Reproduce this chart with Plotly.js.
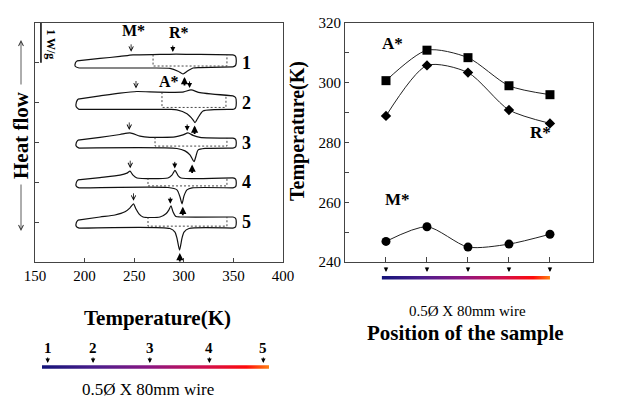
<!DOCTYPE html>
<html><head><meta charset="utf-8">
<script src="https://cdn.plot.ly/plotly-3.0.1.min.js"></script>
<style>html,body{margin:0;padding:0;background:#fff}#chart{width:638px;height:410px}</style>
</head><body><div id="chart"></div>
<script>
// ===== Right panel: transformation temperatures vs sample position =====
const samplePositions = [1, 2, 3, 4, 5];
const aStarTemps = [300.7, 310.9, 308.4, 299.0, 296.0];
const rStarTemps = [288.9, 305.8, 303.4, 290.9, 286.4];
const mStarTemps = [246.9, 251.8, 245.0, 246.0, 249.3];
const rightTempTicks = [240, 250, 260, 270, 280, 290, 300, 310, 320];
const rightTempTickText = ['240', '', '260', '', '280', '', '300', '', '320'];

// ===== Left panel: DSC heat-flow curves (K, W/g with offsets) =====
const leftTempTicks = [150, 200, 250, 300, 350, 400];
const curveLabels = ['1', '2', '3', '4', '5'];
const curveBaselines = [5, 4, 3, 2, 1];

const c1UpT = [192.3, 215.5, 235.7, 248.8, 276.0, 292.0, 316.3, 349.6];
const c1UpQ = [5.05, 5.11, 5.16, 5.20, 5.21, 5.22, 5.21, 5.20];
const c1LoT = [194.4, 265.9, 286.1, 294.2, 299.2, 304.2, 309.3, 316.3, 349.6];
const c1LoQ = [4.87, 4.87, 4.86, 4.79, 4.72, 4.80, 4.87, 4.88, 4.90];

const c2UpT = [193.3, 215.5, 235.7, 252.8, 265.9, 291.1, 300.0, 307.3, 316.3, 349.6];
const c2UpQ = [4.09, 4.17, 4.24, 4.28, 4.27, 4.26, 4.27, 4.32, 4.25, 4.17];
const c2LoT = [194.4, 286.1, 293.1, 303.2, 309.3, 311.3, 314.3, 319.4, 349.6];
const c2LoQ = [3.83, 3.83, 3.82, 3.72, 3.57, 3.50, 3.62, 3.79, 3.83];

const c3UpT = [193.3, 215.5, 235.7, 245.8, 255.8, 265.9, 291.1, 299.2, 304.2, 309.3, 316.3, 349.6];
const c3UpQ = [3.06, 3.13, 3.20, 3.24, 3.16, 3.13, 3.14, 3.19, 3.24, 3.18, 3.13, 3.11];
const c3LoT = [194.4, 293.1, 301.2, 306.2, 310.3, 312.3, 314.3, 321.4, 349.6];
const c3LoQ = [2.86, 2.85, 2.79, 2.69, 2.52, 2.66, 2.81, 2.85, 2.86];

const c4UpT = [193.3, 215.5, 235.7, 242.7, 245.8, 248.8, 252.8, 284.0, 288.0, 291.1, 294.2, 297.2, 349.6];
const c4UpQ = [2.06, 2.12, 2.18, 2.23, 2.28, 2.18, 2.11, 2.11, 2.18, 2.30, 2.17, 2.11, 2.11];
const c4LoT = [194.4, 284.1, 293.1, 296.2, 298.2, 300.2, 303.2, 308.3, 349.6];
const c4LoQ = [1.86, 1.87, 1.81, 1.63, 1.46, 1.66, 1.81, 1.86, 1.86];

const c5UpT = [193.3, 215.5, 230.6, 240.7, 245.8, 249.3, 251.8, 254.8, 258.9, 276.0, 282.0, 285.0, 287.1, 289.1, 292.1, 296.2, 349.6];
const c5UpQ = [1.05, 1.13, 1.18, 1.26, 1.36, 1.46, 1.33, 1.21, 1.13, 1.13, 1.21, 1.31, 1.41, 1.26, 1.14, 1.13, 1.13];
const c5LoT = [194.4, 286.1, 291.1, 293.1, 295.7, 298.2, 300.2, 305.2, 349.6];
const c5LoQ = [0.85, 0.84, 0.75, 0.60, 0.30, 0.60, 0.75, 0.84, 0.85];

const dashStartTemps = [269.0, 278.0, 271.0, 263.9, 263.9];
const dashEndTemps = [343.5, 342.5, 343.5, 343.5, 343.5];

// ===== Wire schematic =====
const wireLengthMM = [0, 80];
const wirePositionsMM = [2, 18, 38, 59, 78];
const wireBarPositions = [0.9, 5];
const wireColorscale = [[0, '#14147a'], [0.25, '#4e1e8c'], [0.47, '#8a1682'], [0.72, '#d0104e'], [0.9, '#ff0a0a'], [1, '#ff8010']];

const FONT = '"Liberation Serif", serif';
const INK = '#111';

const curves = [
  {upT: c1UpT, upQ: c1UpQ, loT: c1LoT, loQ: c1LoQ},
  {upT: c2UpT, upQ: c2UpQ, loT: c2LoT, loQ: c2LoQ},
  {upT: c3UpT, upQ: c3UpQ, loT: c3LoT, loQ: c3LoQ},
  {upT: c4UpT, upQ: c4UpQ, loT: c4LoT, loQ: c4LoQ},
  {upT: c5UpT, upQ: c5UpQ, loT: c5LoT, loQ: c5LoQ}
];

function interp(xs, ys, x) {
  for (let i = 0; i < xs.length - 1; i++) {
    if (x >= xs[i] && x <= xs[i + 1]) {
      const f = (x - xs[i]) / (xs[i + 1] - xs[i]);
      return ys[i] + f * (ys[i + 1] - ys[i]);
    }
  }
  return x < xs[0] ? ys[0] : ys[ys.length - 1];
}
function localExt(xs, ys, x, w, fn) {
  const vals = [interp(xs, ys, x)];
  xs.forEach((v, i) => { if (Math.abs(v - x) <= w) vals.push(ys[i]); });
  return fn(...vals);
}

const traces = [];
const annotations = [];
function txt(o) { return Object.assign({showarrow: false, xanchor: 'center', yanchor: 'middle'}, o); }

curves.forEach((c, i) => {
  const lineStyle = {color: INK, width: 1.2, shape: 'spline', smoothing: 0.6};
  traces.push({x: c.upT, y: c.upQ, xaxis: 'x', yaxis: 'y', mode: 'lines', line: lineStyle, hoverinfo: 'skip'});
  traces.push({x: c.loT, y: c.loQ, xaxis: 'x', yaxis: 'y', mode: 'lines', line: lineStyle, hoverinfo: 'skip'});
  // end caps
  const u0 = c.upQ[0], l0 = c.loQ[0], t0 = c.upT[0], tl0 = c.loT[0];
  const h0 = u0 - l0;
  traces.push({x: [t0, t0 - 1.6, t0 - 1.8, tl0], y: [u0, u0 - 0.3 * h0, l0 + 0.25 * h0, l0],
    xaxis: 'x', yaxis: 'y', mode: 'lines', line: {color: INK, width: 1.2, shape: 'spline'}, hoverinfo: 'skip'});
  const un = c.upQ[c.upQ.length - 1], ln = c.loQ[c.loQ.length - 1], tn = c.upT[c.upT.length - 1];
  const hn = un - ln;
  traces.push({x: [tn, tn + 2.6, tn + 3.3, tn + 2.6, tn], y: [un, un - 0.12 * hn, (un + ln) / 2, ln + 0.12 * hn, ln],
    xaxis: 'x', yaxis: 'y', mode: 'lines', line: {color: INK, width: 1.2, shape: 'spline'}, hoverinfo: 'skip'});
  // dashed inner path
  const ds = dashStartTemps[i], de = dashEndTemps[i];
  const base = c.loQ[0] + 0.05;
  traces.push({x: [ds, ds, de, de], y: [interp(c.upT, c.upQ, ds), base, base, interp(c.upT, c.upQ, de)],
    xaxis: 'x', yaxis: 'y', mode: 'lines', line: {color: '#333', width: 0.9, dash: '2px,2px'}, hoverinfo: 'skip'});

  // arrows
  const arrowBase = {xref: 'x', yref: 'y', text: '', showarrow: true, axref: 'pixel', ayref: 'pixel', ax: 0, font: {size: 1}, arrowcolor: '#000'};
  const mY = localExt(c.upT, c.upQ, mStarTemps[i], 4, Math.max);
  annotations.push(Object.assign({}, arrowBase, {x: mStarTemps[i], y: mY, ay: -9, yshift: 3, arrowhead: 5, arrowsize: 1.1, arrowwidth: 0.8}));
  const rY = localExt(c.upT, c.upQ, rStarTemps[i], 4, Math.max);
  annotations.push(Object.assign({}, arrowBase, {x: rStarTemps[i], y: rY, ay: -8, yshift: 2, arrowhead: 2, arrowsize: 1, arrowwidth: 1}));
  const aY = localExt(c.loT, c.loQ, aStarTemps[i], 6, Math.min);
  annotations.push(Object.assign({}, arrowBase, {x: aStarTemps[i], y: aY, ay: 10, yshift: -3, arrowhead: 2, arrowsize: 0.8, arrowwidth: 1.8}));
  // curve number
  annotations.push(txt({xref: 'x', yref: 'y', x: 363.7, y: curveBaselines[i], text: '<b>' + curveLabels[i] + '</b>',
    font: {family: FONT, size: 18, color: '#000'}}));
});

// scale bar 1 W/g
traces.push({x: [156, 156], y: [5, 6], xaxis: 'x', yaxis: 'y', mode: 'lines', line: {color: '#000', width: 1.5}, hoverinfo: 'skip'});
annotations.push(txt({xref: 'x', yref: 'y', x: 166, y: 5.47, text: '<b>1 W/g</b>', textangle: 90, font: {family: FONT, size: 12, color: '#000'}}));
// left peak labels
annotations.push(txt({xref: 'x', yref: 'y', x: 248.8, y: 5.80, text: '<b>M*</b>', font: {family: FONT, size: 16, color: '#000'}}));
annotations.push(txt({xref: 'x', yref: 'y', x: 295.2, y: 5.75, text: '<b>R*</b>', font: {family: FONT, size: 16, color: '#000'}}));
annotations.push(txt({xref: 'x', yref: 'y', x: 285.0, y: 4.54, text: '<b>A*</b>', font: {family: FONT, size: 16, color: '#000'}}));

// Right panel series
const seriesLine = {color: '#222', width: 1, shape: 'spline', smoothing: 0.75};
traces.push({x: samplePositions, y: aStarTemps, xaxis: 'x2', yaxis: 'y2', mode: 'lines+markers', line: seriesLine,
  marker: {symbol: 'square', size: 9, color: '#000'}, hoverinfo: 'skip'});
traces.push({x: samplePositions, y: rStarTemps, xaxis: 'x2', yaxis: 'y2', mode: 'lines+markers', line: seriesLine,
  marker: {symbol: 'diamond', size: 8, color: '#000'}, hoverinfo: 'skip'});
traces.push({x: samplePositions, y: mStarTemps, xaxis: 'x2', yaxis: 'y2', mode: 'lines+markers', line: seriesLine,
  marker: {symbol: 'circle', size: 9, color: '#000'}, hoverinfo: 'skip'});
annotations.push(txt({xref: 'x2', yref: 'y2', x: 1.17, y: 313.3, text: '<b>A*</b>', font: {family: FONT, size: 17, color: '#000'}}));
annotations.push(txt({xref: 'x2', yref: 'y2', x: 4.76, y: 283.2, text: '<b>R*</b>', font: {family: FONT, size: 17, color: '#000'}}));
annotations.push(txt({xref: 'x2', yref: 'y2', x: 1.27, y: 260.8, text: '<b>M*</b>', font: {family: FONT, size: 17, color: '#000'}}));

// Wire bars
traces.push({x: [wireLengthMM[0], wireLengthMM[1], wireLengthMM[1], wireLengthMM[0], wireLengthMM[0]], y: [0.18, 0.18, 0.28, 0.28, 0.18],
  xaxis: 'x3', yaxis: 'y3', mode: 'lines', line: {width: 0}, fill: 'toself',
  fillgradient: {type: 'horizontal', colorscale: wireColorscale}, hoverinfo: 'skip'});
traces.push({x: [wireBarPositions[0], wireBarPositions[1], wireBarPositions[1], wireBarPositions[0], wireBarPositions[0]], y: [0.13, 0.13, 0.3, 0.3, 0.13],
  xaxis: 'x4', yaxis: 'y4', mode: 'lines', line: {width: 0}, fill: 'toself',
  fillgradient: {type: 'horizontal', colorscale: wireColorscale}, hoverinfo: 'skip'});
wirePositionsMM.forEach((p, i) => {
  annotations.push({xref: 'x3', yref: 'y3', x: p, y: 0.343, text: '', showarrow: true, ax: 0, ay: -7, arrowhead: 2, arrowsize: 0.9, arrowwidth: 1, arrowcolor: '#000', font: {size: 1}});
  annotations.push(txt({xref: 'x3', yref: 'y3', x: p, y: 0.77, text: '<b>' + curveLabels[i] + '</b>', font: {family: FONT, size: 15, color: '#000'}}));
});
samplePositions.forEach(p => {
  annotations.push({xref: 'x4', yref: 'y4', x: p, y: 0.5, text: '', showarrow: true, ax: 0, ay: -6, arrowhead: 2, arrowsize: 0.9, arrowwidth: 1, arrowcolor: '#000', font: {size: 1}});
});

// Titles and text
annotations.push(txt({xref: 'paper', yref: 'paper', x: 157 / 638, y: (410 - 318) / 410, text: '<b>Temperature(K)</b>', font: {family: FONT, size: 21, color: '#000'}}));
annotations.push(txt({xref: 'paper', yref: 'paper', x: 148 / 638, y: (410 - 389) / 410, text: '0.5Ø X 80mm wire', font: {family: FONT, size: 17, color: '#000'}}));
annotations.push(txt({xref: 'paper', yref: 'paper', x: 467 / 638, y: (410 - 311) / 410, text: '0.5Ø X 80mm wire', font: {family: FONT, size: 15, color: '#000'}}));
annotations.push(txt({xref: 'paper', yref: 'paper', x: 465 / 638, y: (410 - 333) / 410, text: '<b>Position of the sample</b>', font: {family: FONT, size: 21, color: '#000'}}));
annotations.push(txt({xref: 'paper', yref: 'paper', x: 298 / 638, y: (410 - 131) / 410, text: '<b>Temperature(K)</b>', textangle: -90, font: {family: FONT, size: 20, color: '#000'}}));
annotations.push(txt({xref: 'paper', yref: 'paper', x: 21 / 638, y: (410 - 135) / 410, text: '<b>Heat flow</b>', textangle: -90, font: {family: FONT, size: 21, color: '#000'}}));
annotations.push({xref: 'paper', yref: 'paper', x: 21 / 638, y: (410 - 40) / 410, text: '', showarrow: true, axref: 'pixel', ayref: 'pixel', ax: 0, ay: 46, arrowhead: 5, arrowsize: 1.2, arrowwidth: 0.8, arrowcolor: '#333', font: {size: 1}});
annotations.push({xref: 'paper', yref: 'paper', x: 21 / 638, y: (410 - 231) / 410, text: '', showarrow: true, axref: 'pixel', ayref: 'pixel', ax: 0, ay: -48, arrowhead: 5, arrowsize: 1.2, arrowwidth: 0.8, arrowcolor: '#333', font: {size: 1}});

const axisCommon = {showgrid: false, zeroline: false, showline: true, mirror: true, linecolor: '#444', linewidth: 1,
  ticks: 'inside', tickcolor: '#444', tickfont: {family: FONT, size: 15, color: '#000'}};
const yDomain = [(410 - 262) / 410, (410 - 23) / 410];

const layout = {
  width: 638, height: 410, margin: {l: 0, r: 0, t: 0, b: 0},
  paper_bgcolor: '#fff', plot_bgcolor: '#fff', showlegend: false,
  font: {family: FONT, color: '#000'},
  xaxis: Object.assign({}, axisCommon, {domain: [35 / 638, 283 / 638], range: [150, 400], tickvals: leftTempTicks, ticklen: 4, anchor: 'y'}),
  yaxis: Object.assign({}, axisCommon, {domain: yDomain, range: [0, 6], tickvals: curveBaselines, showticklabels: false, ticklen: 4, anchor: 'x'}),
  xaxis2: Object.assign({}, axisCommon, {domain: [345 / 638, 593 / 638], range: [0, 6.05], tickvals: samplePositions, showticklabels: false, ticklen: 5, anchor: 'y2'}),
  yaxis2: Object.assign({}, axisCommon, {domain: yDomain, range: [240, 320], tickvals: rightTempTicks, ticktext: rightTempTickText, ticklen: 4, anchor: 'x2'}),
  xaxis3: {domain: [42 / 638, 269 / 638], range: wireLengthMM, visible: false, anchor: 'y3', fixedrange: true},
  yaxis3: {domain: [(410 - 375) / 410, (410 - 340) / 410], range: [0, 1], visible: false, anchor: 'x3', fixedrange: true},
  xaxis4: {domain: [345 / 638, 593 / 638], range: [0, 6.05], visible: false, anchor: 'y4', fixedrange: true},
  yaxis4: {domain: [(410 - 282) / 410, (410 - 262) / 410], range: [0, 1], visible: false, anchor: 'x4', fixedrange: true},
  annotations: annotations
};

Plotly.newPlot('chart', traces, layout, {staticPlot: true, displayModeBar: false});
</script></body></html>
